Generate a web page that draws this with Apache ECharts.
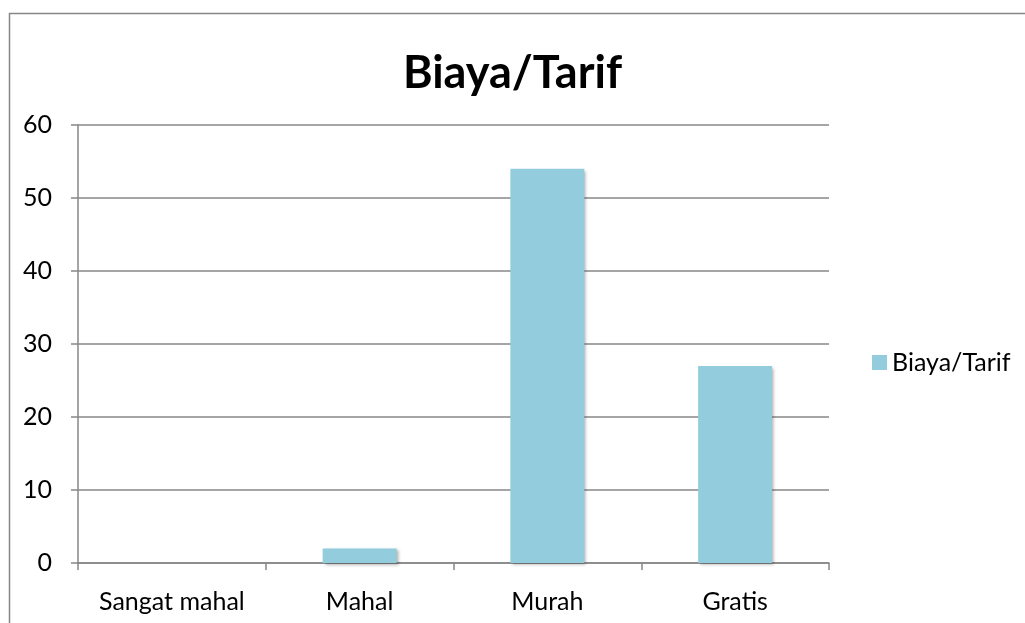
<!DOCTYPE html>
<html>
<head>
<meta charset="utf-8">
<script src="https://cdn.jsdelivr.net/npm/echarts@6/dist/echarts.min.js"></script>
<style>
  html, body { margin: 0; padding: 0; background: #fff; }
  #chart { width: 1025px; height: 623px; }
</style>
</head>
<body>
<div id="chart"></div>
<script>
const categories = ['Sangat mahal', 'Mahal', 'Murah', 'Gratis']
const values = [0, 2, 54, 27]
const seriesName = 'Biaya/Tarif'
const titleText = 'Biaya/Tarif'

const font = 'Lato, "Open Sans", sans-serif'
const gray = '#878787'

const chart = echarts.init(document.getElementById('chart'))
chart.setOption({
  animation: false,
  graphic: [{
    type: 'rect',
    shape: { x: 9.5, y: 13.5, width: 1100, height: 700 },
    style: { fill: 'none', stroke: gray, lineWidth: 1.5 },
    silent: true
  }],
  title: {
    text: titleText,
    left: 'center',
    top: 46,
    textStyle: { fontFamily: font, fontWeight: 'bold', fontSize: 45, color: '#000' }
  },
  legend: {
    orient: 'vertical',
    left: 872,
    top: 350,
    padding: 0,
    itemWidth: 15,
    itemHeight: 15,
    itemGap: 6,
    icon: 'rect',
    textStyle: { fontFamily: font, fontSize: 25, color: '#000' }
  },
  grid: { left: 78, top: 125, width: 751, height: 438 },
  xAxis: {
    type: 'category',
    data: categories,
    axisLine: { lineStyle: { color: gray, width: 1.5 } },
    axisTick: { show: true, length: 7, lineStyle: { color: gray, width: 1.5 } },
    axisLabel: { interval: 0, margin: 26, fontFamily: font, fontSize: 25, color: '#000' }
  },
  yAxis: {
    type: 'value',
    min: 0,
    max: 60,
    interval: 10,
    axisLine: { show: true, lineStyle: { color: gray, width: 1.5 } },
    axisTick: { show: true, length: 7, lineStyle: { color: gray, width: 1.5 } },
    axisLabel: { margin: 26, fontFamily: font, fontSize: 25, color: '#000' },
    splitLine: { lineStyle: { color: gray, width: 1.5 } }
  },
  series: [{
    name: seriesName,
    type: 'bar',
    data: values,
    barWidth: 74,
    itemStyle: {
      color: '#93CDDD',
      shadowBlur: 3,
      shadowOffsetX: 2,
      shadowOffsetY: 2,
      shadowColor: 'rgba(0,0,0,0.3)'
    }
  }]
})
</script>
</body>
</html>
